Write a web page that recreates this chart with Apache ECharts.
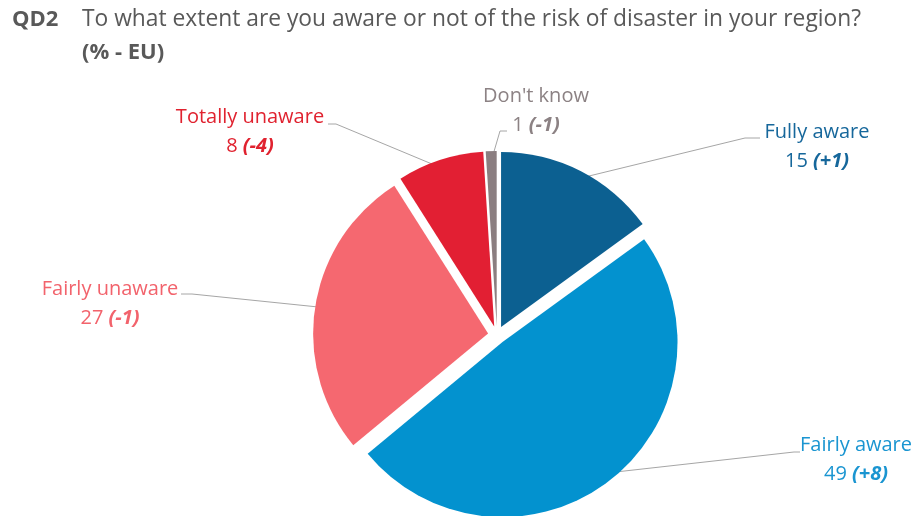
<!DOCTYPE html>
<html>
<head>
<meta charset="utf-8">
<script src="https://cdn.jsdelivr.net/npm/echarts@6/dist/echarts.min.js"></script>
<style>
  html, body { margin: 0; padding: 0; background: #fff; }
  #chart { width: 915px; height: 516px; }
</style>
</head>
<body>
<div id="chart"></div>
<script>
// Survey answers, in clockwise order from 12 o'clock
const categories = ['Fully aware', 'Fairly aware', 'Fairly unaware', 'Totally unaware', "Don't know"];
const shares = [15, 49, 27, 8, 1];
const changes = ['+1', '+8', '-1', '-4', '-1'];

const sliceColors = ['#0C6091', '#0392CF', '#F56870', '#E21F33', '#8B7E80'];
const textColors = ['#16679B', '#1A95D1', '#F2636C', '#E0222F', '#8C8284'];

// Where each label block sits and how its leader line bends
const labelSpots = [
  { x: 817, y: 118, bend: [745, 138], end: [760, 138] },
  { x: 856, y: 431, bend: [794, 452], end: [800, 452] },
  { x: 110, y: 275, bend: [192, 294], end: [181, 294] },
  { x: 250, y: 103, bend: [336, 124], end: [328, 124] },
  { x: 536, y: 82,  bend: [500, 131], end: [507, 131] }
];

const FONT = '"Open Sans", "Noto Sans", sans-serif';
const CENTER = [497, 335];
const RADIUS = 175;

// Exploded slices (no labels)
const sliceData = categories.map((name, i) => ({
  name: name,
  value: shares[i],
  selected: true,
  itemStyle: { color: sliceColors[i] },
  select: { itemStyle: { color: sliceColors[i] } }
}));

// Same values again, invisible, carrying the labels and leader lines
const labelData = categories.map((name, i) => ({
  name: name,
  value: shares[i],
  label: {
    formatter: '{n|{b}}\n{v|{c} }{c2|(' + changes[i] + ')}',
    rich: {
      n: { fontFamily: FONT, fontSize: 20, color: textColors[i], lineHeight: 29, align: 'center' },
      v: { fontFamily: FONT, fontSize: 20, color: textColors[i], lineHeight: 29 },
      c2: { fontFamily: FONT, fontSize: 20, color: textColors[i], lineHeight: 29, fontWeight: 'bold', fontStyle: 'italic' }
    }
  }
}));

const titleStyle = { fontFamily: FONT, fontSize: 22.8, color: '#595959', lineHeight: 26 };

const chart = echarts.init(document.getElementById('chart'), null, { renderer: 'canvas' });
chart.setOption({
  animation: false,
  backgroundColor: '#ffffff',
  title: [
    { text: 'QD2', left: 12, top: 7, padding: 0,
      textStyle: Object.assign({}, titleStyle, { fontWeight: 'bold', fontSize: 22 }) },
    { text: 'To what extent are you aware or not of the risk of disaster in your region?', left: 82, top: 7, padding: 0,
      textStyle: Object.assign({}, titleStyle, { fontWeight: 'normal' }) },
    { text: '(% - EU)', left: 82, top: 40, padding: 0,
      textStyle: Object.assign({}, titleStyle, { fontWeight: 'bold', fontSize: 22 }) }
  ],
  series: [
    {
      type: 'pie',
      z: 1,
      silent: true,
      center: CENTER,
      radius: RADIUS,
      startAngle: 90,
      clockwise: true,
      selectedMode: false,
      avoidLabelOverlap: false,
      emphasis: { disabled: true },
      itemStyle: { color: 'rgba(0,0,0,0)' },
      label: { show: true, position: 'outside' },
      labelLine: { show: true, length: 20, length2: 10, lineStyle: { color: '#A6A6A6', width: 1 } },
      labelLayout: function (p) {
        const s = labelSpots[p.dataIndex];
        const start = p.labelLinePoints ? p.labelLinePoints[0] : s.bend;
        return {
          x: s.x, y: s.y, align: 'center', verticalAlign: 'top',
          labelLinePoints: [start, s.bend, s.end]
        };
      },
      data: labelData
    },
    {
      type: 'pie',
      z: 2,
      center: CENTER,
      radius: RADIUS,
      startAngle: 90,
      clockwise: true,
      selectedMode: 'multiple',
      selectedOffset: 9,
      emphasis: { disabled: true },
      label: { show: false },
      labelLine: { show: false },
      data: sliceData
    }
  ]
});
</script>
</body>
</html>
